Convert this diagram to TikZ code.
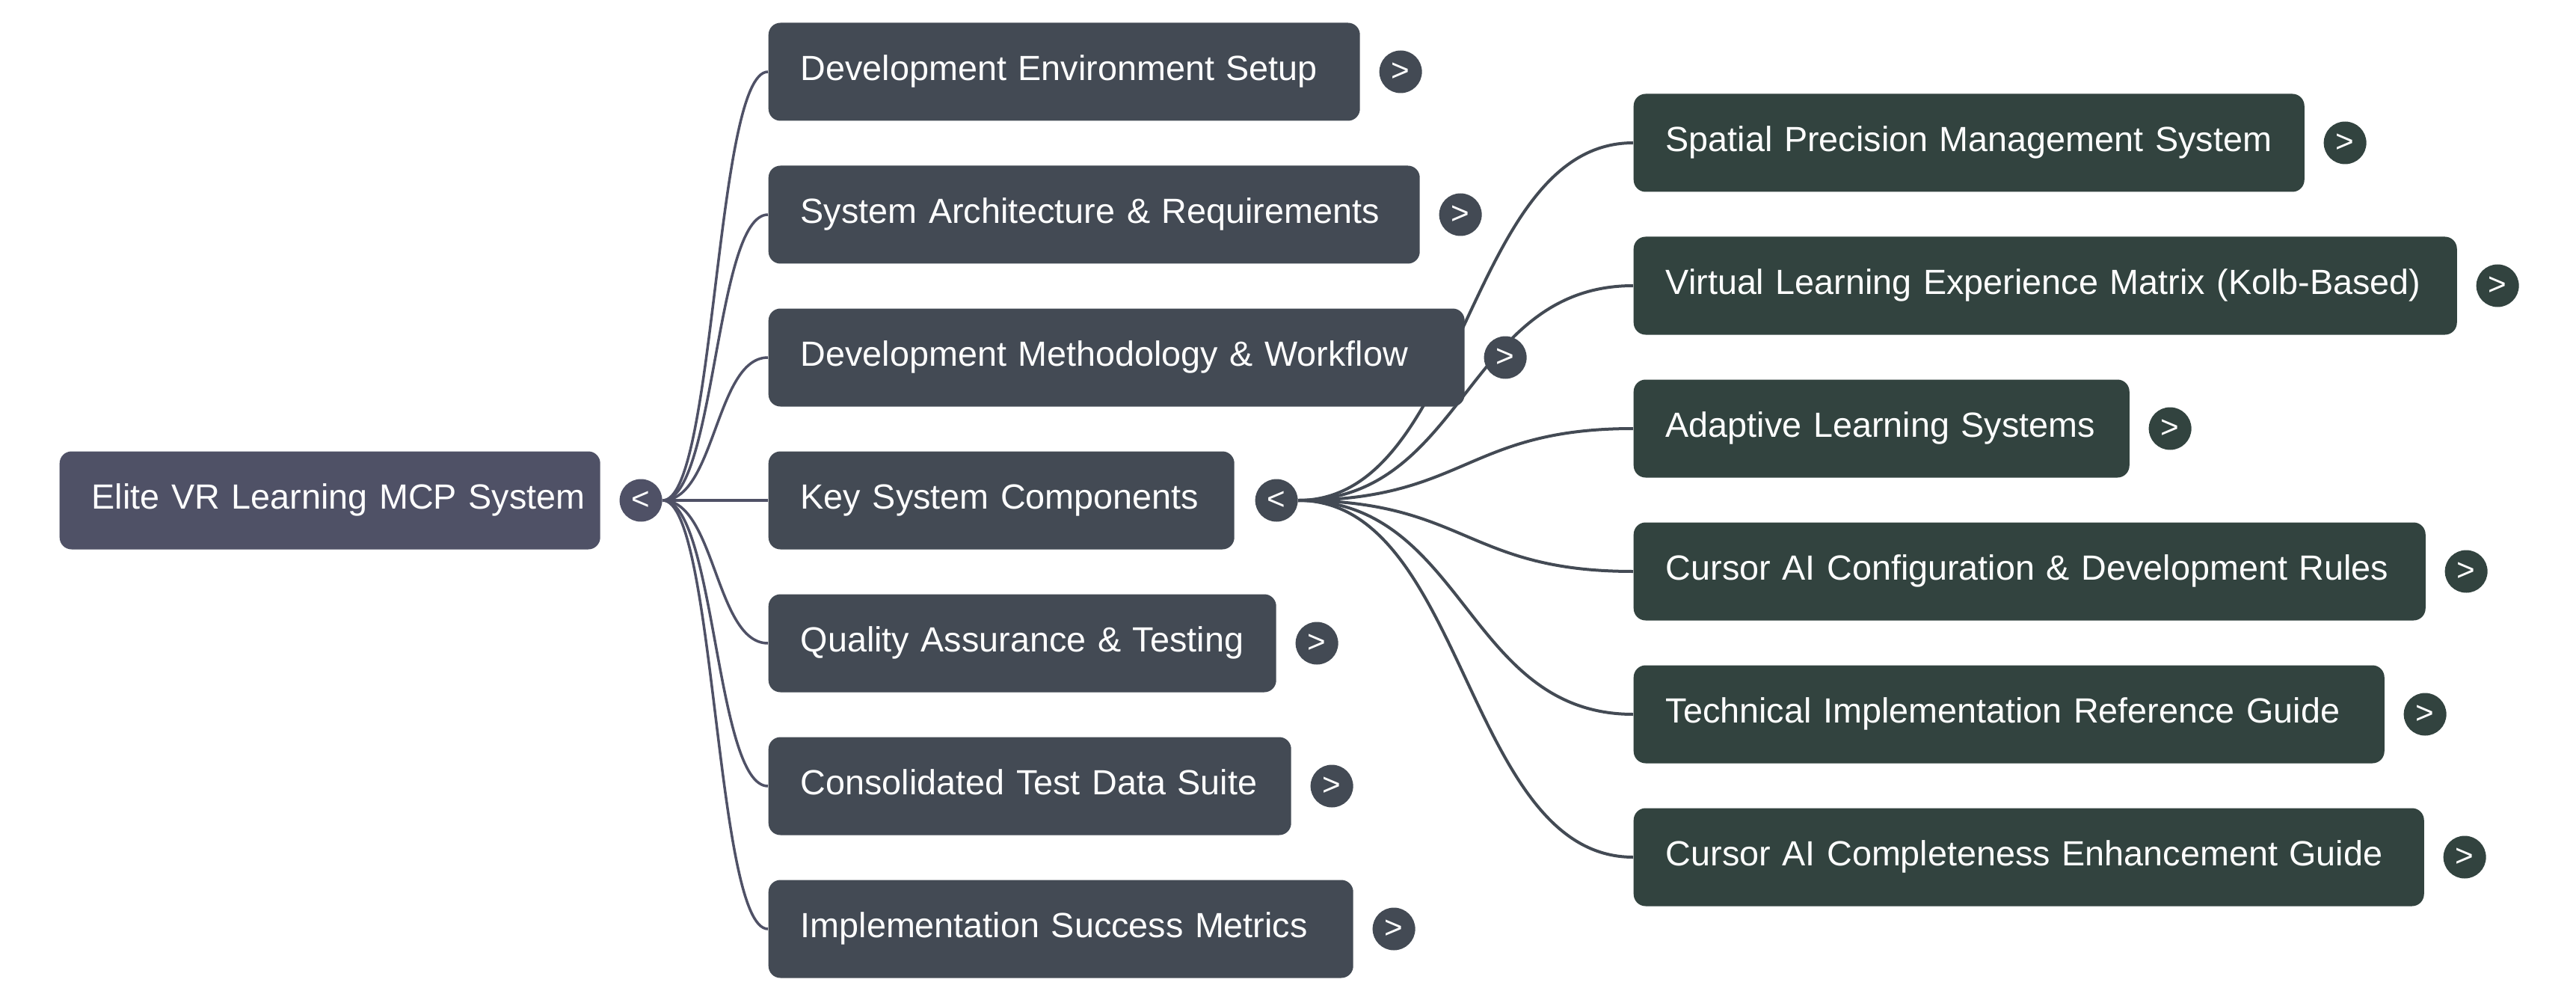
\documentclass[tikz,border=0pt]{standalone}
\usepackage{fontspec}
\setmainfont{Liberation Sans}
\usetikzlibrary{calc,positioning}
\definecolor{rootc}{HTML}{4F5166}
\definecolor{lonec}{HTML}{434A54}
\definecolor{ltwoc}{HTML}{32433F}
\pgfdeclarelayer{background}
\pgfsetlayers{background,main}
\newcommand{\mmlink}[3]{\draw[#1] let \p1=(#2), \p2=(#3) in (\p1) .. controls ({0.5*\x1+0.5*\x2},\y1) and ({0.5*\x1+0.5*\x2},\y2) .. (\p2);}
\tikzset{
  box/.style={rounded corners=0.16cm, minimum height=1.31cm, text=white, inner xsep=0.43cm, inner ysep=0pt,
    align=left, anchor=west, text height=0.33cm, text depth=0.1cm, font=\fontsize{13.3pt}{16pt}\selectfont},
  rootbox/.style={box, fill=rootc},
  onebox/.style={box, fill=lonec},
  twobox/.style={box, fill=ltwoc},
  tog/.style={circle, minimum size=0.57cm, inner sep=0pt, text=white,
    font=\fontsize{12pt}{14pt}\selectfont, right=0.245cm of #1},
  rootedge/.style={draw=rootc, line width=0.035cm},
  keyedge/.style={draw=lonec, line width=0.04cm},
}
\begin{document}
\begin{tikzpicture}
\begin{pgfonlayer}{background}
\fill[white] (0,0) rectangle (34.45,-13.37);
\end{pgfonlayer}
\useasboundingbox (0,0) rectangle (34.45,-13.37);

% root
\node[rootbox, text width=6.37cm] (root) at (0.79,-6.69) {\mbox{Elite VR Learning MCP System}};
\node[tog=root, fill=rootc] (rc) {<};

% level 1
\node[onebox, text width=7.05cm] (a) at (10.27,-0.96) {\mbox{Development Environment Setup}};
\node[onebox, text width=7.85cm] (b) at (10.27,-2.87) {\mbox{System Architecture \& Requirements}};
\node[onebox, text width=8.45cm] (c) at (10.27,-4.78) {\mbox{Development Methodology \& Workflow}};
\node[onebox, text width=5.37cm] (d) at (10.27,-6.69) {\mbox{Key System Components}};
\node[onebox, text width=5.93cm] (e) at (10.27,-8.60) {\mbox{Quality Assurance \& Testing}};
\node[onebox, text width=6.13cm] (f) at (10.27,-10.51) {\mbox{Consolidated Test Data Suite}};
\node[onebox, text width=6.96cm] (g) at (10.27,-12.42) {\mbox{Implementation Success Metrics}};

\node[tog=a, fill=lonec] (ac) {>};
\node[tog=b, fill=lonec] (bc) {>};
\node[tog=c, fill=lonec] (cc) {>};
\node[tog=d, fill=lonec, xshift=0.02cm] (dc) {<};
\node[tog=e, fill=lonec] (ec) {>};
\node[tog=f, fill=lonec] (fc) {>};
\node[tog=g, fill=lonec] (gc) {>};

% level 2
\node[twobox, text width=8.11cm] (s) at (21.84,-1.91) {\mbox{Spatial Precision Management System}};
\node[twobox, text width=10.15cm] (v) at (21.84,-3.82) {\mbox{Virtual Learning Experience Matrix (Kolb-Based)}};
\node[twobox, text width=5.77cm] (ad) at (21.84,-5.73) {\mbox{Adaptive Learning Systems}};
\node[twobox, text width=9.73cm] (cr) at (21.84,-7.64) {\mbox{Cursor AI Configuration \& Development Rules}};
\node[twobox, text width=9.18cm] (ti) at (21.84,-9.55) {\mbox{Technical Implementation Reference Guide}};
\node[twobox, text width=9.71cm] (ce) at (21.84,-11.46) {\mbox{Cursor AI Completeness Enhancement Guide}};

\node[tog=s, fill=ltwoc] (sc) {>};
\node[tog=v, fill=ltwoc] (vc) {>};
\node[tog=ad, fill=ltwoc] (adc) {>};
\node[tog=cr, fill=ltwoc] (crc) {>};
\node[tog=ti, fill=ltwoc] (tic) {>};
\node[tog=ce, fill=ltwoc] (cec) {>};

\begin{pgfonlayer}{background}
\foreach \t in {a,b,c,d,e,f,g}{\mmlink{rootedge}{rc.east}{\t.west}}
\foreach \t in {s,v,ad,cr,ti,ce}{\mmlink{keyedge}{dc.east}{\t.west}}
\end{pgfonlayer}
\end{tikzpicture}
\end{document}
